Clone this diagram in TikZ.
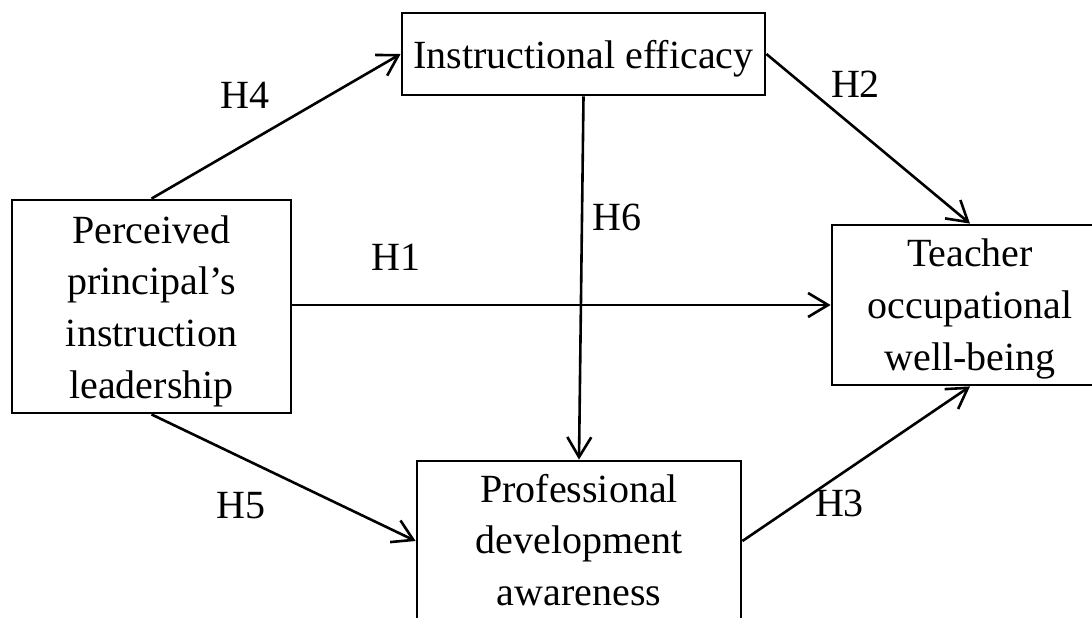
\documentclass[tikz,border=0pt]{standalone}
\usepackage{fontspec}
\setmainfont{Liberation Serif}
\usetikzlibrary{arrows.meta}
\begin{document}
\begin{tikzpicture}[x=0.5pt,y=-0.5pt,
  box/.style={draw=black,line width=1.4pt,rectangle,inner sep=0pt,fill=none},
  txt/.style={inner sep=0pt,align=center,font=\fontsize{20}{25.85}\selectfont},
  hlab/.style={inner sep=0pt,font=\fontsize{20}{24}\selectfont},
  arr/.style={line width=1.3pt,-{Straight Barb[length=10pt,width=12pt,line width=1.3pt]}}]
\useasboundingbox (0,0) rectangle (1092,617);
\clip (0,0) rectangle (1092,617);
% boxes
\node[box,minimum width=181.5pt,minimum height=41pt] (ie) at (583.5,54) {};
\node[box,minimum width=139.5pt,minimum height=106.5pt] (pl) at (151.5,306.5) {};
\node[box,minimum width=138pt,minimum height=80pt] (tw) at (970,305) {};
\node[box,minimum width=162pt,minimum height=80pt] (pd) at (579,541) {};
% texts
\node[txt] (iet) at (583.5,59) {Instructional efficacy};
\node[txt] (plt) at (151.5,311) {Perceived\\principal’s\\instruction\\leadership};
\node[txt] (twt) at (970,309) {Teacher\\occupational\\well-being};
\node[txt] (pdt) at (579,540) {Professional\\development\\awareness};
% connectors
\draw[arr] (pl.north) -- (ie.west);
\draw[arr] (ie.east) -- (tw.north);
\draw[arr] (pl.east |- tw.west) -- (tw.west);
\draw[arr] (ie.south) -- (pd.north);
\draw[arr] (pl.south) -- (pd.west);
\draw[arr] (pd.east) -- (tw.south);
% labels
\node[hlab] (h4) at (245,95) {H4};
\node[hlab] (h1) at (396,257.5) {H1};
\node[hlab] (h2) at (855.5,84) {H2};
\node[hlab] (h6) at (617,217.5) {H6};
\node[hlab] (h5) at (241,505.5) {H5};
\node[hlab] (h3) at (839.5,503) {H3};
\end{tikzpicture}
\end{document}
